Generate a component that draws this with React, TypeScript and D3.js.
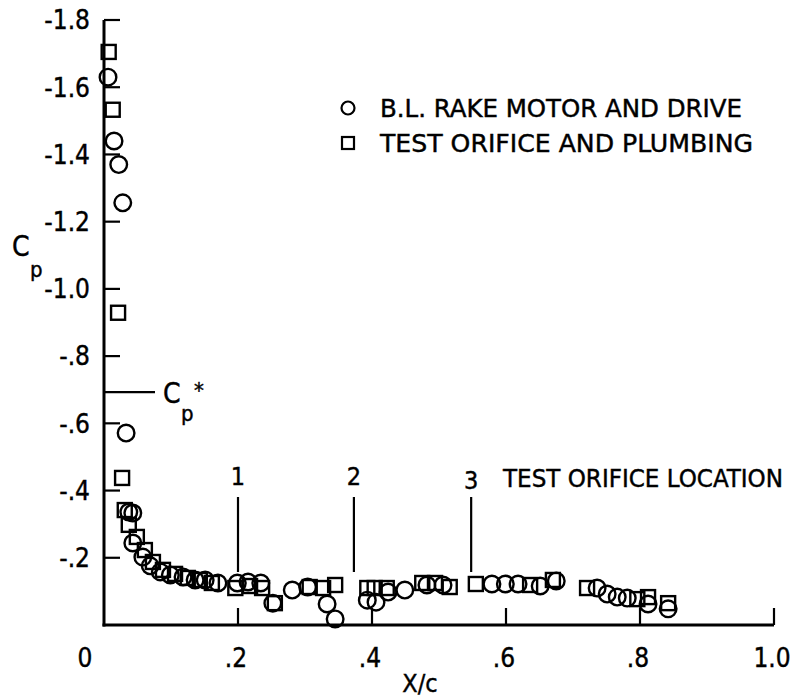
import * as d3 from "d3";

// B.L. rake motor and drive (circles): [x/c, Cp]
const rakeX = [0.006, 0.015, 0.022, 0.028, 0.033, 0.037, 0.043, 0.043, 0.058, 0.069, 0.084, 0.099, 0.118, 0.136, 0.151, 0.17, 0.199, 0.215, 0.234, 0.252, 0.281, 0.304, 0.333, 0.345, 0.393, 0.406, 0.424, 0.449, 0.482, 0.506, 0.579, 0.599, 0.618, 0.651, 0.675, 0.736, 0.751, 0.766, 0.781, 0.812, 0.842];
const rakeCp = [-1.63, -1.44, -1.37, -1.256, -0.571, -0.336, -0.333, -0.244, -0.202, -0.176, -0.158, -0.149, -0.143, -0.134, -0.134, -0.125, -0.125, -0.128, -0.125, -0.065, -0.104, -0.113, -0.0625, -0.018, -0.074, -0.068, -0.098, -0.104, -0.119, -0.119, -0.122, -0.122, -0.122, -0.116, -0.131, -0.11, -0.092, -0.083, -0.08, -0.0625, -0.048];

// Test orifice and plumbing (squares)
const orificeX = [0.007, 0.013, 0.021, 0.027, 0.031, 0.037, 0.049, 0.061, 0.073, 0.088, 0.106, 0.125, 0.143, 0.161, 0.196, 0.218, 0.236, 0.255, 0.307, 0.327, 0.345, 0.393, 0.404, 0.422, 0.475, 0.494, 0.516, 0.555, 0.636, 0.67, 0.721, 0.796, 0.812, 0.842];
const orificeCp = [-1.705, -1.533, -0.929, -0.4375, -0.342, -0.298, -0.262, -0.223, -0.1875, -0.164, -0.152, -0.14, -0.134, -0.125, -0.11, -0.116, -0.11, -0.065, -0.113, -0.11, -0.119, -0.11, -0.11, -0.11, -0.125, -0.125, -0.113, -0.122, -0.119, -0.134, -0.11, -0.077, -0.083, -0.065];

const xTicks = [0, 0.2, 0.4, 0.6, 0.8, 1.0];
const xTickLabels = ["0", ".2", ".4", ".6", ".8", "1.0"];
const yTicks = [-1.8, -1.6, -1.4, -1.2, -1.0, -0.8, -0.6, -0.4, -0.2];
const yTickLabels = ["-1.8", "-1.6", "-1.4", "-1.2", "-1.0", "-.8", "-.6", "-.4", "-.2"];

const cpStar = -0.693;
const orificeLocations = [0.2, 0.373, 0.548];
const orificeLabels = ["1", "2", "3"];

const FONT = "'DejaVu Sans Condensed', 'Liberation Sans Narrow', sans-serif";

export default function App() {
  const x = d3.scaleLinear().domain([0, 1]).range([104, 774]);
  const y = d3.scaleLinear().domain([0, -1.8]).range([625, 20]);

  const rake = rakeX.map((v, i) => [v, rakeCp[i]]);
  const orifice = orificeX.map((v, i) => [v, orificeCp[i]]);

  return (
    <svg
      width={799}
      height={698}
      style={{ position: "absolute", left: 0, top: 0, background: "#fff" }}
      fontFamily={FONT}
    >
      <g stroke="#000" strokeWidth={0.4}>
        {yTicks.map((t, i) => (
          <text key={t} x={90} y={y(t)} dy="0.36em" textAnchor="end" fontSize={26}>
            {yTickLabels[i]}
          </text>
        ))}
        {xTicks.map((t, i) => (
          <text key={t} x={t === 0 ? 85 : x(t) - 2} y={667} textAnchor="middle" fontSize={26}>
            {xTickLabels[i]}
          </text>
        ))}
        <text x={420} y={692} textAnchor="middle" fontSize={25}>X/c</text>
        <text x={12} y={256} fontSize={28}>C</text>
        <text x={30} y={277} fontSize={22}>p</text>
        <text x={163} y={403} fontSize={28}>C</text>
        <text x={181} y={421} fontSize={22}>p</text>
        <text x={194} y={398} fontSize={22}>*</text>
        {orificeLocations.map((loc, i) => (
          <text key={loc} x={x(loc)} y={i === 2 ? 489 : 485} textAnchor="middle" fontSize={25}>
            {orificeLabels[i]}
          </text>
        ))}
        <text x={503} y={487} fontSize={24} textLength={280} lengthAdjust="spacingAndGlyphs">
          TEST ORIFICE LOCATION
        </text>
        <text x={380} y={117} fontSize={24} textLength={362} lengthAdjust="spacingAndGlyphs">
          B.L. RAKE MOTOR AND DRIVE
        </text>
        <text x={380} y={152} fontSize={24} textLength={373} lengthAdjust="spacingAndGlyphs">
          TEST ORIFICE AND PLUMBING
        </text>
      </g>

      {/* axes */}
      <line x1={x(0)} x2={x(0)} y1={y(-1.8)} y2={y(0) + 1.5} stroke="#000" strokeWidth={3} />
      <line x1={x(0) - 1.5} x2={x(1)} y1={y(0)} y2={y(0)} stroke="#000" strokeWidth={3} />
      {yTicks.map((t) => (
        <line key={t} x1={x(0)} x2={x(0) + 16} y1={y(t)} y2={y(t)} stroke="#000" strokeWidth={2.2} />
      ))}
      {xTicks.filter((t) => t > 0).map((t) => (
        <line key={t} x1={x(t)} x2={x(t)} y1={y(0)} y2={y(0) - 17} stroke="#000" strokeWidth={2.2} />
      ))}

      {/* Cp* line */}
      <line x1={x(0)} x2={155} y1={y(cpStar)} y2={y(cpStar)} stroke="#000" strokeWidth={2.2} />

      {/* test orifice location markers */}
      {orificeLocations.map((loc) => (
        <line key={loc} x1={x(loc)} x2={x(loc)} y1={497} y2={572} stroke="#000" strokeWidth={2.2} />
      ))}

      {/* data */}
      {orifice.map(([a, b], i) => (
        <rect
          key={"s" + i}
          x={x(a) - 7}
          y={y(b) - 7}
          width={14}
          height={14}
          fill="none"
          stroke="#000"
          strokeWidth={2.4}
        />
      ))}
      {rake.map(([a, b], i) => (
        <circle
          key={"c" + i}
          cx={x(a)}
          cy={y(b)}
          r={8.3}
          fill="none"
          stroke="#000"
          strokeWidth={2.4}
        />
      ))}

      {/* legend markers */}
      <circle cx={348} cy={108} r={6.5} fill="none" stroke="#000" strokeWidth={2.2} />
      <rect x={342} y={137} width={12} height={12} fill="none" stroke="#000" strokeWidth={2.2} />
    </svg>
  );
}
